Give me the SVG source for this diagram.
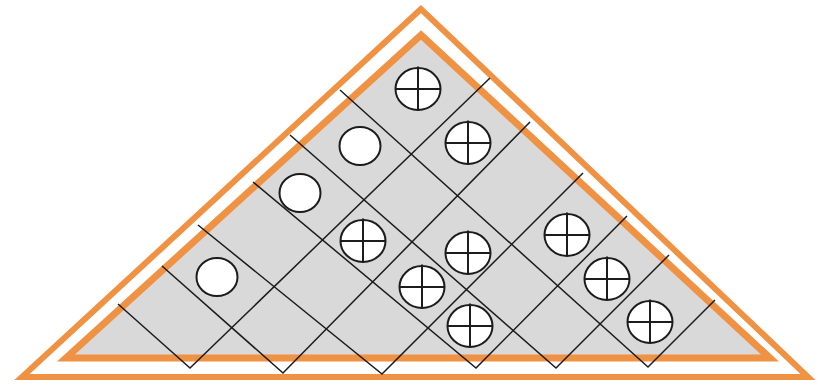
<svg xmlns="http://www.w3.org/2000/svg" width="817" height="385" viewBox="0 0 817 385">
  <defs>
    <style>
      .band { fill: none; stroke: #ef9243; stroke-linejoin: miter; stroke-miterlimit: 10; }
      .grid { fill: none; stroke: #1c1c1c; stroke-width: 1.5; stroke-linejoin: miter; }
      .dot { fill: #ffffff; stroke: #1c1c1c; stroke-width: 2; }
      .cross { stroke: #1c1c1c; stroke-width: 2; }
    </style>
    <g id="plus">
      <ellipse class="dot" cx="0" cy="0" rx="22.5" ry="21"/>
      <line class="cross" x1="-22.5" y1="0" x2="22.5" y2="0"/>
      <line class="cross" x1="0" y1="-22.5" x2="0" y2="21"/>
    </g>
    <g id="plain">
      <ellipse class="dot" cx="0" cy="0" rx="20.5" ry="19"/>
    </g>
  </defs>
  <rect width="817" height="385" fill="#ffffff"/>
  <g id="frame">
    <polygon class="band" points="421,9 22,377 808,377" stroke-width="6"/>
    <polygon points="421,35 66,358 770,358" fill="#d9d9d9" stroke="#ef9243" stroke-width="7" stroke-linejoin="miter" stroke-miterlimit="10"/>
  </g>
  <g id="connectors">
    <path class="grid" d="M118,304 L190,368 L490,78"/>
    <path class="grid" d="M162,266 L283,373 L530,122"/>
    <path class="grid" d="M198,225 L382,374 L583,173"/>
    <path class="grid" d="M253,182 L476,368 L627,216"/>
    <path class="grid" d="M290,135 L556,368 L669,255"/>
    <path class="grid" d="M340,90 L648,367 L715,300"/>
  </g>
  <g id="n-plain-1"><use href="#plain" x="360" y="146"/></g>
  <g id="n-plain-2"><use href="#plain" x="300" y="193"/></g>
  <g id="n-plain-3"><use href="#plain" x="217" y="277"/></g>
  <g id="n-plus-1"><use href="#plus" x="418" y="89"/></g>
  <g id="n-plus-2"><use href="#plus" x="468" y="143"/></g>
  <g id="n-plus-3"><use href="#plus" x="363" y="241"/></g>
  <g id="n-plus-4"><use href="#plus" x="468" y="253"/></g>
  <g id="n-plus-5"><use href="#plus" x="422" y="287"/></g>
  <g id="n-plus-6"><use href="#plus" x="470" y="326"/></g>
  <g id="n-plus-7"><use href="#plus" x="567" y="235"/></g>
  <g id="n-plus-8"><use href="#plus" x="607" y="279"/></g>
  <g id="n-plus-9"><use href="#plus" x="650" y="322"/></g>
</svg>
